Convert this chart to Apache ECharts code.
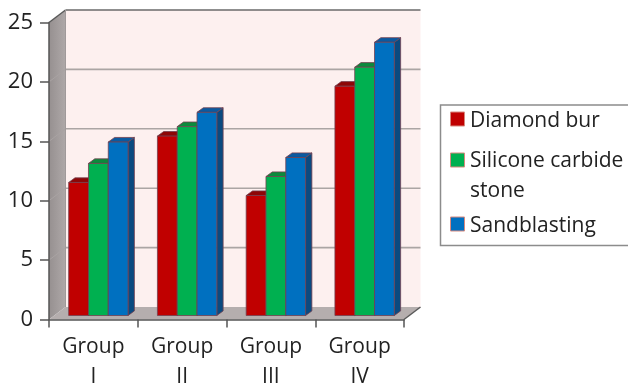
<!DOCTYPE html>
<html>
<head>
<meta charset="utf-8">
<style>
  html, body { margin: 0; padding: 0; background: #fff; }
  #chart { width: 628px; height: 383px; }
</style>
</head>
<body>
<div id="chart"></div>
<script src="https://cdn.jsdelivr.net/npm/echarts@6/dist/echarts.min.js"></script>
<script>
const categories = ['Group\nI', 'Group\nII', 'Group\nIII', 'Group\nIV']
const yTicks = [5, 10, 15, 20]
const diamondBur = [11.2, 15.1, 10.1, 19.3]
const siliconeCarbide = [12.8, 15.9, 11.7, 20.9]
const sandblasting = [14.6, 17.1, 13.3, 23.0]

const font = '"Open Sans", "Noto Sans", sans-serif'
const chart = echarts.init(document.getElementById('chart'))

// fake 3d: depth of the box and of the bars, in px
const wallDx = 16.5, wallDy = -12.5
const barShiftX = 5, barShiftY = -4
const barDx = 6.3, barDy = -4.6
const barW = 19.8

function poly(points, fill, stroke, width) {
  return {
    type: 'polygon',
    shape: { points: points },
    style: { fill: fill, stroke: stroke || null, lineWidth: width || 0 }
  }
}
function line(a, b, color, width) {
  return {
    type: 'line',
    shape: { x1: a[0], y1: a[1], x2: b[0], y2: b[1] },
    style: { stroke: color, lineWidth: width }
  }
}

function renderWalls(params, api) {
  const rect = params.coordSys
  const x0 = rect.x, x1 = rect.x + rect.width
  const yTop = api.coord([0, 25])[1], yBase = api.coord([0, 0])[1]
  const kids = []
  // back wall
  kids.push(poly([[x0 + wallDx, yTop + wallDy], [x1 + wallDx, yTop + wallDy], [x1 + wallDx, yBase + wallDy], [x0 + wallDx, yBase + wallDy]], '#fdf0ef'))
  // side wall
  kids.push(poly([[x0, yTop], [x0 + wallDx, yTop + wallDy], [x0 + wallDx, yBase + wallDy], [x0, yBase]], {
    type: 'linear', x: 0, y: 0, x2: 1, y2: 0,
    colorStops: [{ offset: 0, color: '#969090' }, { offset: 1, color: '#aea8a8' }]
  }))
  // floor
  kids.push(poly([[x0, yBase], [x0 + wallDx, yBase + wallDy], [x1 + wallDx, yBase + wallDy], [x1, yBase]], '#b5aeae'))
  yTicks.forEach(function (t) {
    const y = api.coord([0, t])[1]
    kids.push(line([x0 + wallDx, y + wallDy], [x1 + wallDx, y + wallDy], '#aba5a4', 1.6))
    kids.push(line([x0, y], [x0 + wallDx, y + wallDy], '#a9a3a3', 1))
  })
  kids.push(line([x0, yTop], [x0 + wallDx, yTop + wallDy], '#5a5a5a', 1.5))
  kids.push(line([x0 + wallDx, yTop + wallDy], [x1 + wallDx, yTop + wallDy], '#6a6a6a', 1.5))
  kids.push(line([x1, yBase], [x1 + wallDx, yBase + wallDy], '#5a5a5a', 1.5))
  kids.push(line([x0 + wallDx, yTop + wallDy], [x0 + wallDx, yBase + wallDy], '#a09a9a', 1))
  return { type: 'group', children: kids }
}

function barRenderer(slot, front, top, side) {
  return function (params, api) {
    const c = api.coord([api.value(0), api.value(1)])
    const base = api.coord([api.value(0), 0])
    const l = c[0] + barShiftX + (slot - 1.5) * barW
    const r = l + barW
    const t = c[1] + barShiftY
    const b = base[1] + barShiftY
    const edge = '#74404f'
    return {
      type: 'group',
      children: [
        poly([[r, t], [r + barDx, t + barDy], [r + barDx, b + barDy], [r, b]], side, edge, 0.8),
        poly([[l, t], [l + barDx, t + barDy], [r + barDx, t + barDy], [r, t]], top, edge, 0.8),
        poly([[l, t], [r, t], [r, b], [l, b]], front, edge, 0.8)
      ]
    }
  }
}

function barSeries(name, values, slot, front, top, side) {
  return {
    name: name,
    type: 'custom',
    z: 3 + slot,
    clip: false,
    itemStyle: { color: front },
    data: values.map(function (v, i) { return [i, v] }),
    encode: { x: 0, y: 1 },
    renderItem: barRenderer(slot, front, top, side)
  }
}

// legend drawn by hand: the swatch sits on the first line of the wrapped name
function legendBlock() {
  const rows = [
    { color: '#c00000', swatchY: 112, lines: [['Diamond bur', 121]] },
    { color: '#00b050', swatchY: 153, lines: [['Silicone carbide', 161], ['stone', 191]] },
    { color: '#0070c0', swatchY: 217, lines: [['Sandblasting', 226]] }
  ]
  const items = [{
    type: 'rect',
    shape: { x: 440.5, y: 105, width: 200, height: 140.5 },
    style: { fill: '#fff', stroke: '#8c8c8c', lineWidth: 1.5 }
  }]
  rows.forEach(function (row) {
    items.push({
      type: 'rect',
      shape: { x: 450.5, y: row.swatchY, width: 14, height: 14 },
      style: { fill: row.color, stroke: '#d8897e', lineWidth: 1 }
    })
    row.lines.forEach(function (t) {
      items.push({
        type: 'text',
        x: 470,
        y: t[1],
        style: { text: t[0], fontFamily: font, fontSize: 21, fill: '#222', verticalAlign: 'middle', align: 'left' }
      })
    })
  })
  return items
}

const option = {
  backgroundColor: '#fff',
  animation: false,
  grid: { left: 49, right: 224, top: 22.5, bottom: 63.5, outerBoundsMode: 'none' },
  graphic: legendBlock(),
  xAxis: {
    type: 'category',
    data: categories,
    z: 6,
    axisLine: { lineStyle: { color: '#555', width: 1.5 } },
    axisTick: { show: true, length: 8, lineStyle: { color: '#555', width: 1.5 } },
    axisLabel: { fontFamily: font, fontSize: 21, color: '#222', margin: 13, lineHeight: 30 }
  },
  yAxis: {
    type: 'value',
    min: 0,
    max: 25,
    interval: 5,
    z: 6,
    axisLine: { show: true, lineStyle: { color: '#555', width: 1.5 } },
    axisTick: { show: true, length: 9, lineStyle: { color: '#555', width: 1.5 } },
    axisLabel: { fontFamily: font, fontSize: 22, color: '#222', margin: 16, padding: [6, 0, 0, 0] },
    splitLine: { show: false }
  },
  series: [
    { type: 'custom', z: 1, clip: false, silent: true, data: [[0, 0]], encode: { x: 0, y: 1 }, renderItem: renderWalls },
    barSeries('Diamond bur', diamondBur, 0, '#c00000', '#8e0606', '#8c0505'),
    barSeries('Silicone carbide stone', siliconeCarbide, 1, '#00b050', '#0b8a3c', '#067a38'),
    barSeries('Sandblasting', sandblasting, 2, '#0070c0', '#0b5aa0', '#0a4a80')
  ]
}

chart.setOption(option)
</script>
</body>
</html>
